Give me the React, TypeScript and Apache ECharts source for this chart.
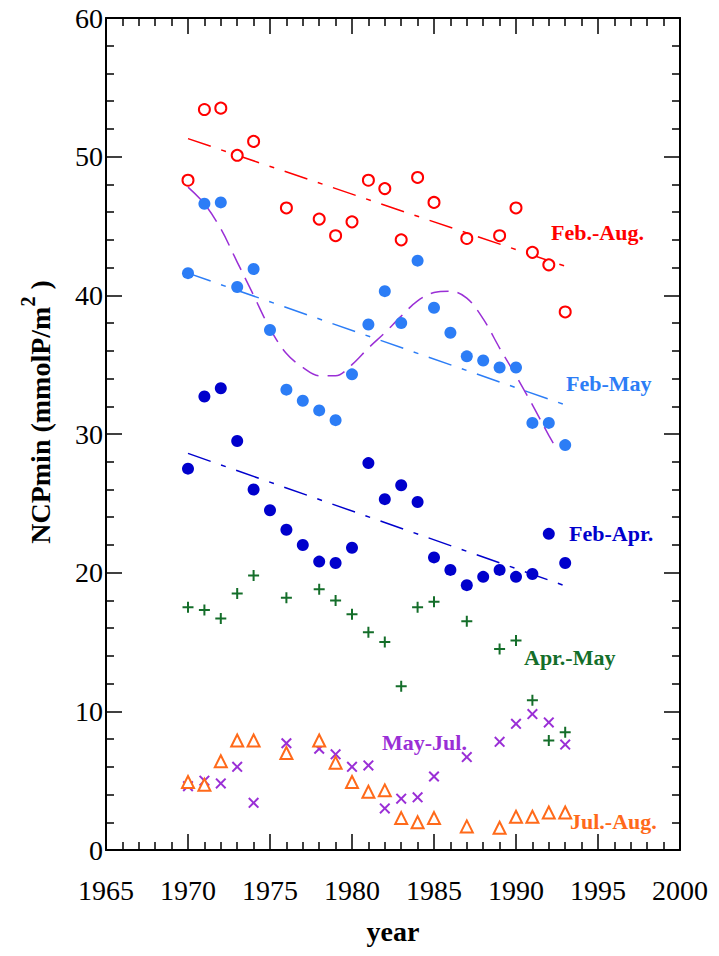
import React, { useEffect, useRef } from "react";
import * as echarts from "echarts";

// ---- data ----
const febAugYears = [1970, 1971, 1972, 1973, 1974, 1976, 1978, 1979, 1980, 1981, 1982, 1983, 1984, 1985, 1987, 1989, 1990, 1991, 1992, 1993];
const febAugValues = [48.3, 53.4, 53.5, 50.1, 51.1, 46.3, 45.5, 44.3, 45.3, 48.3, 47.7, 44.0, 48.5, 46.7, 44.1, 44.3, 46.3, 43.1, 42.2, 38.8];

const allYears = [1970, 1971, 1972, 1973, 1974, 1975, 1976, 1977, 1978, 1979, 1980, 1981, 1982, 1983, 1984, 1985, 1986, 1987, 1988, 1989, 1990, 1991, 1992, 1993];
const febMayValues = [41.6, 46.6, 46.7, 40.6, 41.9, 37.5, 33.2, 32.4, 31.7, 31.0, 34.3, 37.9, 40.3, 38.0, 42.5, 39.1, 37.3, 35.6, 35.3, 34.8, 34.8, 30.8, 30.8, 29.2];
const febAprValues = [27.5, 32.7, 33.3, 29.5, 26.0, 24.5, 23.1, 22.0, 20.8, 20.7, 21.8, 27.9, 25.3, 26.3, 25.1, 21.1, 20.2, 19.1, 19.7, 20.2, 19.7, 19.9, 22.8, 20.7];

const sparseYears = [1970, 1971, 1972, 1973, 1974, 1976, 1978, 1979, 1980, 1981, 1982, 1983, 1984, 1985, 1987, 1989, 1990, 1991, 1992, 1993];
const aprMayValues = [17.5, 17.3, 16.7, 18.5, 19.8, 18.2, 18.8, 18.0, 17.0, 15.7, 15.0, 11.8, 17.5, 17.9, 16.5, 14.5, 15.1, 10.8, 7.9, 8.5];
const mayJulValues = [4.6, 5.0, 4.8, 6.0, 3.4, 7.7, 7.3, 6.9, 6.0, 6.1, 3.0, 3.7, 3.8, 5.3, 6.7, 7.8, 9.1, 9.8, 9.2, 7.6];
const julAugValues = [4.9, 4.7, 6.4, 7.9, 7.9, 7.0, 7.9, 6.3, 4.9, 4.2, 4.3, 2.3, 2.0, 2.3, 1.7, 1.6, 2.4, 2.4, 2.7, 2.7];

// smooth (dashed purple) curve, read at each year
const curveYears = [1970, 1971, 1972, 1973, 1974, 1975, 1976, 1977, 1978, 1979, 1980, 1981, 1982, 1983, 1984, 1985, 1986, 1987, 1988, 1989, 1990, 1991, 1992, 1992.5];
const curveValues = [47.8, 46.6, 44.8, 42.4, 40.0, 37.6, 35.8, 34.8, 34.2, 34.2, 35.0, 36.2, 37.3, 38.5, 39.6, 40.2, 40.3, 39.8, 38.3, 36.2, 34.2, 32.1, 29.9, 28.9];

// trend line end points
const trendYears = [1970, 1993];
const febAugTrend = [51.3, 42.1];
const febMayTrend = [41.6, 32.1];
const febAprTrend = [28.6, 19.05];

const xTicks = { min: 1965, max: 2000, interval: 5 };
const yTicks = { min: 0, max: 60, interval: 10 };

const seriesLabels = ["Feb.-Aug.", "Feb-May", "Feb-Apr.", "Apr.-May", "May-Jul.", "Jul.-Aug."];

const zip = (xs: number[], ys: number[]) => xs.map((x, i) => [x, ys[i]]);

const FONT = "'Liberation Serif', 'Times New Roman', Times, serif";
const RED = "#FF0000";
const LBLUE = "#2C7DF6";
const DBLUE = "#0000CC";
const GREEN = "#146E2A";
const PURPLE = "#9A2FD6";
const ORANGE = "#FF6A1A";

const PLUS = "path://M4.5,0H6.5V4.5H11V6.5H6.5V11H4.5V6.5H0V4.5H4.5Z";
const CROSS = "path://M1.4,0L5.5,4.1L9.6,0L11,1.4L6.9,5.5L11,9.6L9.6,11L5.5,6.9L1.4,11L0,9.6L4.1,5.5L0,1.4Z";

export default function App() {
  const ref = useRef<HTMLDivElement>(null);
  useEffect(() => {
    if (!ref.current) return;
    const chart = echarts.init(ref.current, undefined, { renderer: "svg" });
    const tickStyle = { color: "#000", width: 1.5 };
    const baseX = {
      type: "value",
      min: xTicks.min,
      max: xTicks.max,
      interval: xTicks.interval,
      axisLine: { show: true, onZero: false, lineStyle: { color: "#000", width: 2 } },
      axisTick: { show: true, inside: true, length: 16, lineStyle: tickStyle },
      minorTick: { show: true, splitNumber: 5, length: 8, lineStyle: tickStyle },
      splitLine: { show: false },
      minorSplitLine: { show: false },
    };
    const baseY = {
      type: "value",
      min: yTicks.min,
      max: yTicks.max,
      interval: yTicks.interval,
      axisLine: { show: true, onZero: false, lineStyle: { color: "#000", width: 2 } },
      axisTick: { show: true, inside: true, length: 16, lineStyle: tickStyle },
      minorTick: { show: true, splitNumber: 5, length: 8, lineStyle: tickStyle },
      splitLine: { show: false },
      minorSplitLine: { show: false },
    };
    const lbl = (text: string, x: number, y: number, color: string) => ({
      type: "text",
      x,
      y,
      style: {
        text,
        fill: color,
        font: `bold 22px ${FONT}`,
        align: "left",
        verticalAlign: "middle",
      },
    });
    const solid = (color: string) => ({ color, opacity: 1 });
    const hollow = (color: string) => ({ color, borderColor: color, borderWidth: 1.6, opacity: 1 });
    chart.setOption({
      animation: false,
      backgroundColor: "#fff",
      textStyle: { fontFamily: FONT },
      grid: { left: 106, top: 18, width: 574, height: 832, containLabel: false },
      xAxis: [
        {
          ...baseX,
          position: "bottom",
          axisLabel: {
            show: true,
            fontSize: 28,
            color: "#000",
            fontFamily: FONT,
            margin: 26,
            formatter: (v: number) => String(v),
          },
        },
        { ...baseX, position: "top", axisLabel: { show: false } },
      ],
      yAxis: [
        {
          ...baseY,
          position: "left",
          axisLabel: {
            show: true,
            fontSize: 28,
            color: "#000",
            fontFamily: FONT,
            margin: 3,
            formatter: (v: number) => String(v),
          },
        },
        { ...baseY, position: "right", axisLabel: { show: false } },
      ],
      graphic: [
        lbl(seriesLabels[0], 551, 232, RED),
        lbl(seriesLabels[1], 566, 383, LBLUE),
        lbl(seriesLabels[2], 569, 533, DBLUE),
        lbl(seriesLabels[3], 524, 657, GREEN),
        lbl(seriesLabels[4], 382, 742, PURPLE),
        lbl(seriesLabels[5], 570, 821, ORANGE),
        {
          type: "text",
          x: 393,
          y: 931,
          style: {
            text: "year",
            fill: "#000",
            font: `bold 28px ${FONT}`,
            align: "center",
            verticalAlign: "middle",
          },
        },
        {
          type: "text",
          x: 36,
          y: 412,
          rotation: Math.PI / 2,
          style: {
            text: "{b|NCPmin (mmolP/m}{s|2}{b| )}",
            align: "center",
            verticalAlign: "middle",
            rich: {
              b: { fontFamily: FONT, fontWeight: "bold", fontSize: 28, fill: "#000", color: "#000", verticalAlign: "bottom", lineHeight: 36 },
              s: { fontFamily: FONT, fontWeight: "bold", fontSize: 20, fill: "#000", color: "#000", verticalAlign: "top", lineHeight: 20 },
            },
          },
        },
      ],
      series: [
        {
          type: "line",
          data: zip(trendYears, febAugTrend),
          symbol: "none",
          lineStyle: { color: RED, width: 1.5, type: [24, 11, 5, 11] },
          z: 1,
        },
        {
          type: "line",
          data: zip(trendYears, febMayTrend),
          symbol: "none",
          lineStyle: { color: LBLUE, width: 1.5, type: [24, 11, 5, 11] },
          z: 1,
        },
        {
          type: "line",
          data: zip(trendYears, febAprTrend),
          symbol: "none",
          lineStyle: { color: DBLUE, width: 1.5, type: [24, 11, 5, 11] },
          z: 1,
        },
        {
          type: "line",
          data: zip(curveYears, curveValues),
          symbol: "none",
          smooth: 0.35,
          lineStyle: { color: PURPLE, width: 1.5, type: [18, 9] },
          z: 1,
        },
        {
          type: "scatter",
          data: zip(febAugYears, febAugValues),
          symbol: "emptyCircle",
          symbolSize: 11,
          itemStyle: hollow(RED),
          z: 3,
        },
        {
          type: "scatter",
          data: zip(allYears, febMayValues),
          symbol: "circle",
          symbolSize: 12,
          itemStyle: solid(LBLUE),
          z: 3,
        },
        {
          type: "scatter",
          data: zip(allYears, febAprValues),
          symbol: "circle",
          symbolSize: 12,
          itemStyle: solid(DBLUE),
          z: 3,
        },
        {
          type: "scatter",
          data: zip(sparseYears, aprMayValues),
          symbol: PLUS,
          symbolSize: 11,
          itemStyle: solid(GREEN),
          z: 3,
        },
        {
          type: "scatter",
          data: zip(sparseYears, mayJulValues),
          symbol: CROSS,
          symbolSize: 11,
          itemStyle: solid(PURPLE),
          z: 3,
        },
        {
          type: "scatter",
          data: zip(sparseYears, julAugValues),
          symbol: "emptyTriangle",
          symbolSize: 12,
          itemStyle: hollow(ORANGE),
          z: 3,
        },
      ],
    });
    return () => chart.dispose();
  }, []);
  return (
    <div
      ref={ref}
      style={{ position: "fixed", left: 0, top: 0, width: 719, height: 956, background: "#fff" }}
    />
  );
}
